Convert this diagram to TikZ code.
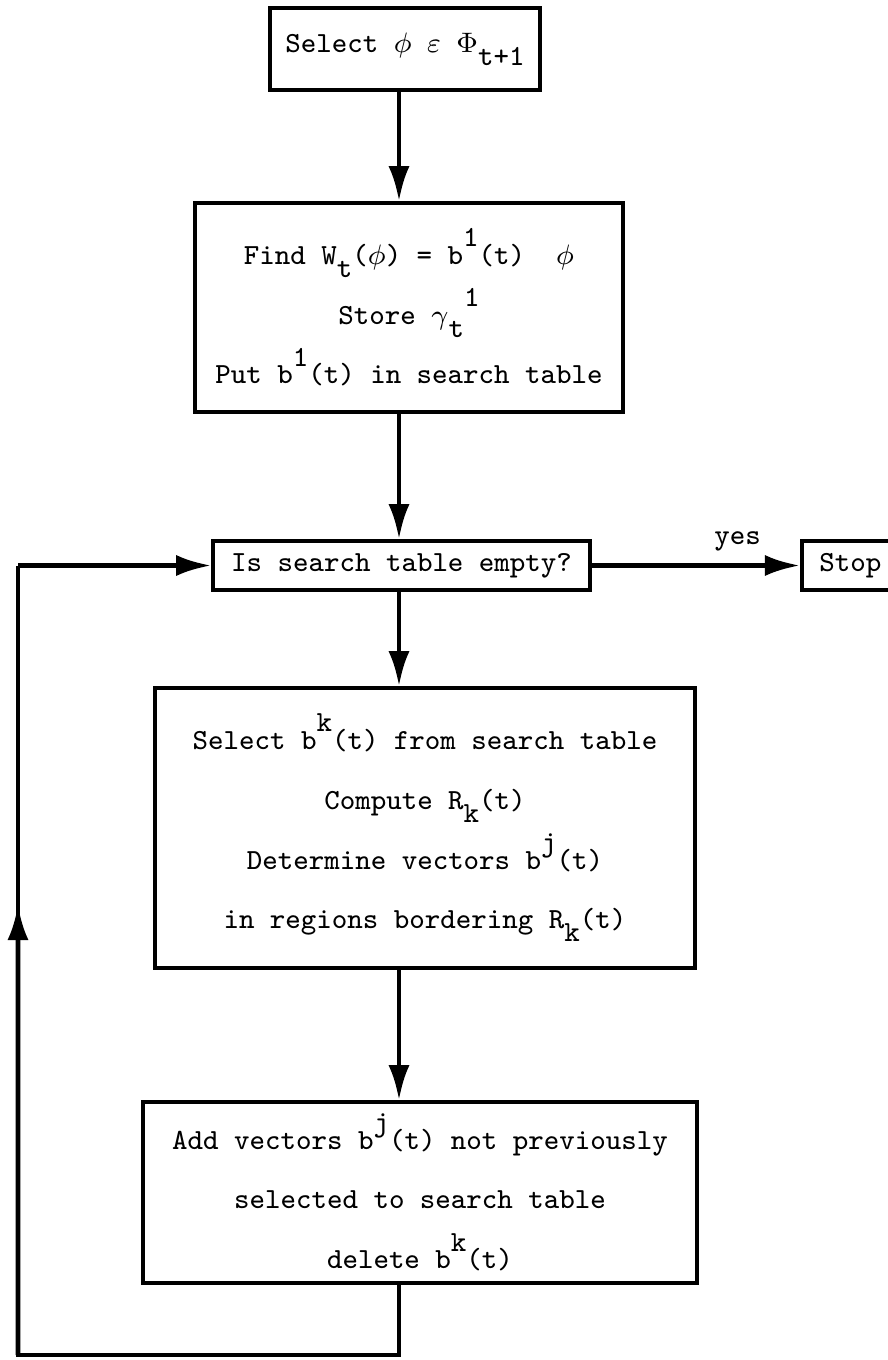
\documentclass[tikz,border=0pt]{standalone}
\usepackage{fontspec}
\usetikzlibrary{positioning, calc, arrows.meta}

\newcommand{\up}[1]{\raisebox{0.6em}{#1}}
\newcommand{\dn}[1]{\raisebox{-0.45em}{#1}}

\begin{document}
\begin{tikzpicture}[x=0.01cm, y=-0.01cm,
    box/.style={draw, line width=1pt, align=center, inner sep=0pt,
                font=\ttfamily\fontsize{8.3}{17}\selectfont},
    flow/.style={line width=1.4pt, -{Latex[length=10pt,width=6pt]}},
    wire/.style={line width=1.4pt}]
    \useasboundingbox (0,0) rectangle (887,1360);
    \coordinate (spine) at (399,0);
    \node[box, minimum width=270*0.01cm, minimum height=82*0.01cm] (select) at (405,49) {Select $\phi$ $\varepsilon$ $\Phi$\dn{t+1}};
    \node[box, minimum width=428*0.01cm, minimum height=209*0.01cm] (find) at (409,307.5)
        {Find W\dn{t}($\phi$) = b\up{1}(t)~ $\phi$\\ Store $\gamma$\dn{t}\up{1}\\ Put b\up{1}(t) in search table};
    \node[box, minimum width=377*0.01cm, minimum height=49*0.01cm] (empty) at (401.5,565.5) {Is search table empty?};
    \node[box, anchor=west, text width=120*0.01cm, align=left, inner xsep=5pt,
          minimum height=49*0.01cm] (stop) at (800,565.5) {Stop};
    \node[box, minimum width=540*0.01cm, minimum height=280*0.01cm] (region) at (425,828)
        {Select b\up{k}(t) from search table\\ Compute R\dn{k}(t)\\ Determine vectors b\up{j}(t)\\ in regions bordering R\dn{k}(t)};
    \node[box, minimum width=554*0.01cm, minimum height=181*0.01cm] (add) at (420,1192.5)
        {Add vectors b\up{j}(t) not previously\\ selected to search table\\ delete b\up{k}(t)};
    \coordinate (corner) at (18,1355);
    % main line
    \draw[flow] (select.south -| spine) -- (find.north -| spine);
    \draw[flow] (find.south -| spine) -- (empty.north -| spine);
    \draw[flow] (empty.east) -- node[pos=0.7, above, font=\ttfamily\fontsize{8.3}{9}\selectfont] {yes} (stop.west);
    \draw[flow] (empty.south -| spine) -- (region.north -| spine);
    \draw[flow] (region.south -| spine) -- (add.north -| spine);
    % loop back
    \draw[wire] (add.south -| spine) |- (corner) -- (corner |- empty.west);
    \draw[flow] (corner |- empty.west) -- (empty.west);
    \draw[flow] (corner) -- ($(corner |- empty.west)!0.43!(corner)$);
\end{tikzpicture}
\end{document}
